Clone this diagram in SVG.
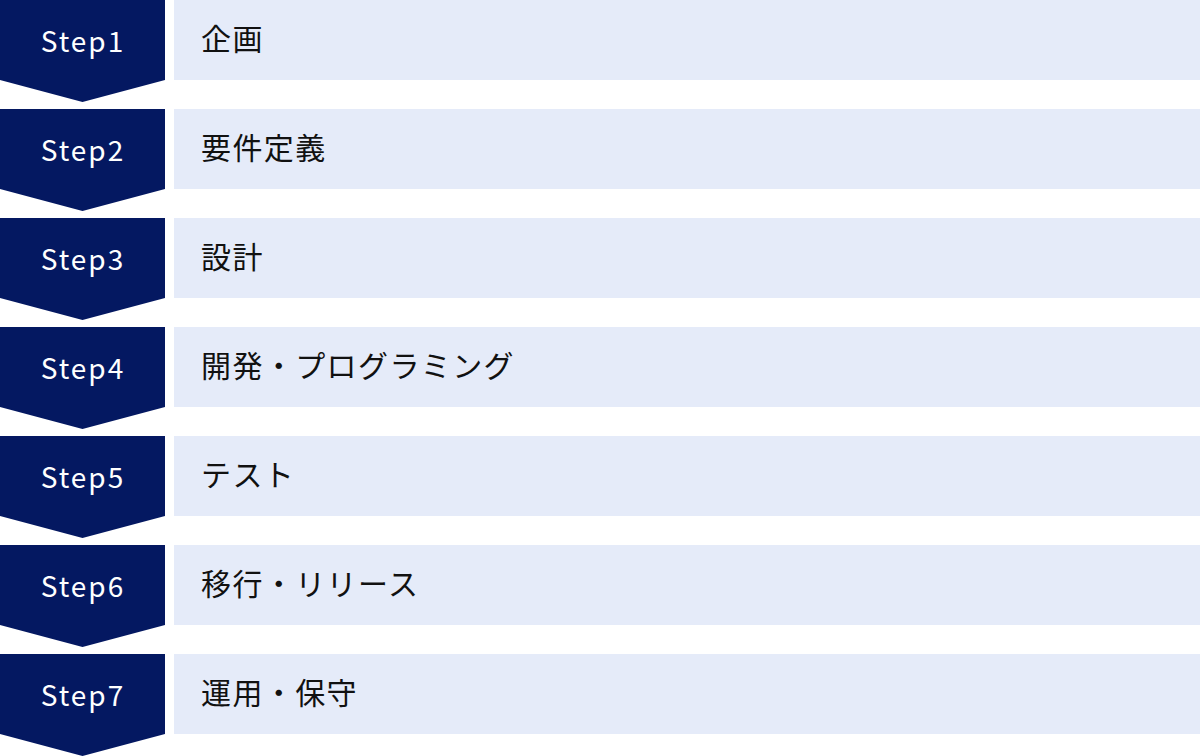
<svg xmlns="http://www.w3.org/2000/svg" width="1200" height="756" viewBox="0 0 1200 756">
<style>
.arrow{fill:#041861}
.box{fill:#E5EBF9}
.step{font-family:"Noto Sans CJK JP","Noto Sans",sans-serif;font-size:28px;fill:#ffffff;letter-spacing:2px;text-anchor:middle}
.label{font-family:"Noto Sans CJK JP","Noto Sans",sans-serif;font-size:30px;fill:#111111;letter-spacing:1.4px}
</style>
<defs>
<path id="chev" d="M0 0H165V80L82.5 102L0 80Z"/>
</defs>
<g id="step1" transform="translate(0,0)"><use href="#chev" class="arrow"/><rect class="box" x="174" y="0" width="1026" height="80"/><text class="step" x="83" y="52">Step1</text><text class="label" x="201" y="50">企画</text></g>
<g id="step2" transform="translate(0,109)"><use href="#chev" class="arrow"/><rect class="box" x="174" y="0" width="1026" height="80"/><text class="step" x="83" y="52">Step2</text><text class="label" x="201" y="50">要件定義</text></g>
<g id="step3" transform="translate(0,218)"><use href="#chev" class="arrow"/><rect class="box" x="174" y="0" width="1026" height="80"/><text class="step" x="83" y="52">Step3</text><text class="label" x="201" y="50">設計</text></g>
<g id="step4" transform="translate(0,327)"><use href="#chev" class="arrow"/><rect class="box" x="174" y="0" width="1026" height="80"/><text class="step" x="83" y="52">Step4</text><text class="label" x="201" y="50">開発・プログラミング</text></g>
<g id="step5" transform="translate(0,436)"><use href="#chev" class="arrow"/><rect class="box" x="174" y="0" width="1026" height="80"/><text class="step" x="83" y="52">Step5</text><text class="label" x="201" y="50">テスト</text></g>
<g id="step6" transform="translate(0,545)"><use href="#chev" class="arrow"/><rect class="box" x="174" y="0" width="1026" height="80"/><text class="step" x="83" y="52">Step6</text><text class="label" x="201" y="50">移行・リリース</text></g>
<g id="step7" transform="translate(0,654)"><use href="#chev" class="arrow"/><rect class="box" x="174" y="0" width="1026" height="80"/><text class="step" x="83" y="52">Step7</text><text class="label" x="201" y="50">運用・保守</text></g>
<g id="connectors"></g>
</svg>
